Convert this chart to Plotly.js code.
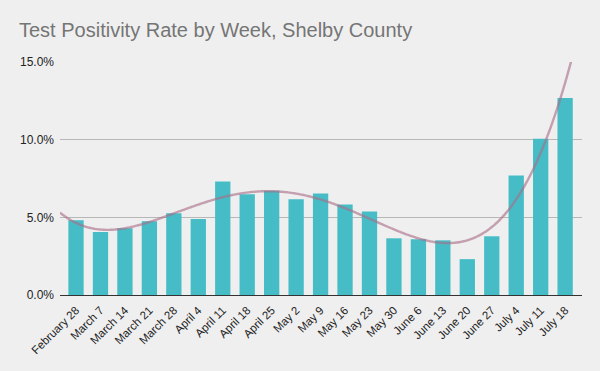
<!DOCTYPE html>
<html>
<head>
<meta charset="utf-8">
<script src="https://cdn.plot.ly/plotly-3.0.1.min.js"></script>
<style>html,body{margin:0;padding:0;background:#efefef;}#chart{width:600px;height:371px;}</style>
</head>
<body>
<div id="chart"></div>
<script>
const weeks = ["February 28","March 7","March 14","March 21","March 28","April 4","April 11","April 18","April 25","May 2","May 9","May 16","May 23","May 30","June 6","June 13","June 20","June 27","July 4","July 11","July 18"];
const positivity = [0.0481,0.0406,0.0429,0.0474,0.0526,0.0489,0.0731,0.0649,0.0671,0.0617,0.0654,0.0583,0.0538,0.0365,0.0359,0.0352,0.0231,0.0378,0.0769,0.1006,0.1269];
const yTicks = [0,0.05,0.10,0.15];
const yTickText = ["0.0%","5.0%","10.0%","15.0%"];
const trendDegree = 4;

// least-squares polynomial trendline computed from the data
function polyfit(xs, ys, deg){
  const n = deg+1;
  const A = Array.from({length:n},()=>new Array(n+1).fill(0));
  for(let i=0;i<xs.length;i++){
    for(let r=0;r<n;r++){
      for(let c=0;c<n;c++) A[r][c]+=Math.pow(xs[i],r+c);
      A[r][n]+=ys[i]*Math.pow(xs[i],r);
    }
  }
  for(let i=0;i<n;i++){
    let p=i;for(let k=i+1;k<n;k++) if(Math.abs(A[k][i])>Math.abs(A[p][i])) p=k;
    [A[i],A[p]]=[A[p],A[i]];
    for(let k=0;k<n;k++){ if(k===i) continue; const f=A[k][i]/A[i][i]; for(let j=i;j<=n;j++) A[k][j]-=f*A[i][j]; }
  }
  return A.map((row,i)=>row[n]/row[i]);
}
const idx = weeks.map((_,i)=>i);
const scale = 10;
const coef = polyfit(idx.map(v=>v/scale), positivity, trendDegree);
const xr = [-0.655, weeks.length-1+0.69];
const tx=[], ty=[];
for(let k=0;k<=300;k++){
  const x = xr[0]+(xr[1]-xr[0])*k/300;
  tx.push(x);
  ty.push(coef.reduce((s,c,i)=>s+c*Math.pow(x/scale,i),0));
}

const bars = {type:'bar', x:idx, y:positivity, marker:{color:'#46bdc6'}, hoverinfo:'y'};
const trend = {type:'scatter', mode:'lines', x:tx, y:ty, line:{color:'rgba(170,110,135,0.62)', width:2.4, shape:'spline'}, hoverinfo:'skip'};

const layout = {
  width:600, height:371,
  paper_bgcolor:'#efefef', plot_bgcolor:'#efefef',
  margin:{l:60, r:18, t:62, b:76},
  showlegend:false,
  bargap:0.374,
  title:{text:'Test Positivity Rate by Week, Shelby County', x:19/600, xanchor:'left', xref:'container', y:1-30/371, yref:'container', yanchor:'middle', font:{family:'Liberation Sans, Arial, sans-serif', size:20, color:'#757575'}},
  xaxis:{range:xr, tickmode:'array', tickvals:idx, ticktext:weeks, tickangle:-45, showgrid:false, zeroline:false, showline:true, linecolor:'#333333', linewidth:1, ticks:'', ticklabelstandoff:3, tickfont:{family:'Liberation Sans, Arial, sans-serif', size:11.5, color:'#222222'}},
  yaxis:{range:[0,0.15], tickmode:'array', tickvals:yTicks, ticktext:yTickText, showgrid:true, gridcolor:'#b7b7b7', gridwidth:1, zeroline:false, showline:false, ticks:'', ticklen:0, ticklabelstandoff:5, tickfont:{family:'Liberation Sans, Arial, sans-serif', size:12, color:'#222222'}, fixedrange:true}
};
Plotly.newPlot('chart',[bars,trend],layout,{displayModeBar:false,staticPlot:true});
</script>
</body>
</html>
